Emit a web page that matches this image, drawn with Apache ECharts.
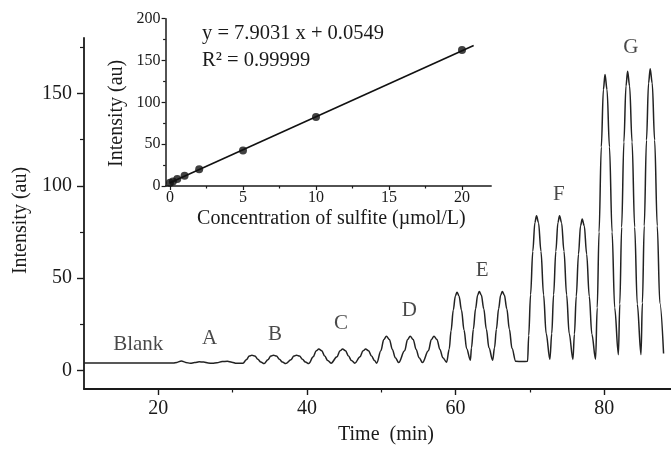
<!DOCTYPE html>
<html><head><meta charset="utf-8">
<script src="https://cdn.jsdelivr.net/npm/echarts@6/dist/echarts.min.js"></script>
<style>html,body{margin:0;padding:0;background:#fff}#c{width:671px;height:450px}</style>
</head><body><div id="c"></div>
<script>
// ---- main signal (Time, min / Intensity, au) ----
const timeMin = [10,16,22.0,22.5,23.1,23.7,24.3,24.9,25.5,26.1,26.7,27.3,27.9,28.6,29.3,29.9,30.5,31.0,
  31.4,31.85,32.25,32.6,33.0,33.4,33.8,34.25,34.75,35.15,35.5,35.9,36.3,36.7,37.15,37.85,38.25,38.6,39.0,39.4,39.8,40.25,
  40.85,41.25,41.6,42.0,42.4,42.8,43.25,44.05,44.45,44.8,45.2,45.6,46.0,46.45,47.15,47.55,47.9,48.3,48.7,49.1,49.4,
  49.95,50.35,50.7,51.1,51.5,51.9,52.35,53.15,53.55,53.9,54.3,54.7,55.1,55.55,56.35,56.75,57.1,57.5,57.9,58.3,58.8,
  59.15,59.4,59.7,59.98,60.2,60.47,60.8,61.15,61.5,62.0,
  62.15,62.4,62.7,62.98,63.2,63.47,63.8,64.15,64.5,65.0,
  65.25,65.5,65.8,66.08,66.3,66.57,66.9,67.25,67.6,68.1,69.0,69.7,
  69.85,70.1,70.4,70.68,70.9,71.17,71.5,71.85,72.2,72.7,
  72.95,73.2,73.5,73.78,74.0,74.27,74.6,74.95,75.3,75.8,
  76.0,76.25,76.55,76.83,77.05,77.32,77.65,78.0,78.35,78.85,
  79.07,79.32,79.62,79.9,80.12,80.39,80.72,81.07,81.42,81.92,
  82.11,82.36,82.66,82.94,83.16,83.43,83.76,84.11,84.46,84.96,
  85.15,85.4,85.7,85.98,86.2,86.47,86.8,87.15,87.5,88.0];
const intensity = [4.1,4.1,4.1,4.4,5.2,4.4,3.9,4.3,4.7,4.6,4.1,3.9,4.2,4.9,5.0,4.5,3.9,3.9,
  4.0,5.8,7.8,8.3,7.8,6.05,4.6,3.8,5.8,7.8,8.3,7.8,6.05,4.6,3.8,5.8,7.8,8.3,7.8,6.05,4.6,3.8,
  7.4,10.7,11.6,10.7,7.8,5.4,4.0,7.4,10.7,11.6,10.7,7.8,5.4,4.0,7.4,10.7,11.6,10.7,7.8,5.4,4.0,
  10.7,16.8,18.5,16.8,11.4,6.9,4.3,10.7,16.8,18.5,16.8,11.4,6.9,4.3,10.7,16.8,18.5,16.8,11.4,6.9,4.5,
  11.5,21.5,32.8,40.4,42.4,40.4,32.8,21.8,11.8,5.6,
  12.3,22.3,33.5,40.9,42.8,40.9,33.5,22.3,12.3,5.6,
  12.3,22.3,33.5,40.9,42.8,40.9,33.5,22.3,12.0,5.0,4.9,5.0,
  19,41,64.5,80,83.8,80,64.5,41,20,6.0,
  20,41,64.5,80,83.8,80,64.5,41,20,6.0,
  19.7,40.2,63,78.5,82,78.5,63,40.2,19.7,6.1,
  34,75,121,152,160.2,152,121,75,34,8.6,
  36,77.6,123.7,154,162,154,123.7,77.6,36,8.6,
  36.5,78.3,124.7,155.6,163.4,155.6,124.7,78.3,36.5,9.2];

// ---- peak group labels ----
const groupNames = ['Blank','A','B','C','D','E','F','G'];
const groupTime  = [17.3, 26.9, 35.7, 44.6, 53.8, 63.6, 73.9, 83.6];
const groupLevel = [14.0, 17.5, 19.7, 25.4, 32.4, 54.2, 95.5, 175];

// ---- inset calibration ----
const concentration  = [0, 0.2, 0.5, 1, 2, 5, 10, 20];
const calibIntensity = [4, 5.5, 8.3, 12.3, 20, 42.5, 82.5, 162.5];
const fitConc = [0, 20.8];
const fitInt  = [4, 168];
const equationText = 'y = 7.9031 x + 0.0549';
const r2Text = 'R\u00b2 = 0.99999';

// ---- ticks ----
const xMajor = [20, 40, 60, 80];
const xMinor = [30, 50, 70];
const yMajor = [0, 50, 100, 150];
const yMinor = [25, 75, 125, 175];
const inXMajor = [0, 5, 10, 15, 20];
const inXMinor = [2.5, 7.5, 12.5, 17.5];
const inYMajor = [0, 50, 100, 150, 200];
const inYMinor = [25, 75, 125, 175];

const FONT = '"Liberation Serif","Times New Roman",serif';
const INK = '#1a1a1a';

function zip(a, b) { return a.map((v, i) => [v, b[i]]); }

function majorAxis(o) {
  return Object.assign({
    type: 'value',
    axisLine: { show: true, onZero: false, lineStyle: { color: INK, width: 1.8 } },
    splitLine: { show: false },
  }, o);
}
function minorAxis(o, vals, len) {
  return Object.assign({
    type: 'value',
    axisLine: { show: false, onZero: false },
    axisLabel: { show: false },
    axisTick: { show: true, customValues: vals, length: len, lineStyle: { color: INK, width: 1.2 } },
    splitLine: { show: false },
  }, o);
}

const chart = echarts.init(document.getElementById('c'), null, { renderer: 'canvas' });
chart.setOption({
  animation: false,
  backgroundColor: '#fff',
  textStyle: { fontFamily: FONT, color: INK },
  grid: [
    { left: 84, right: 0, top: 38, bottom: 59.5 },
    { left: 165.6, width: 325.6, top: 18.7, height: 167.3 }
  ],
  xAxis: [
    majorAxis({ gridIndex: 0, min: 10, max: 89, position: 'bottom',
      axisTick: { show: true, customValues: xMajor, length: 6, lineStyle: { color: INK, width: 1.4 } },
      axisLabel: { customValues: xMajor, margin: 10, fontSize: 20, fontFamily: FONT, color: INK },
      name: 'Time  (min)', nameLocation: 'middle', nameGap: 36,
      nameTextStyle: { fontSize: 20, fontFamily: FONT, color: INK, padding: [0, 0, 0, 17] } }),
    minorAxis({ gridIndex: 0, min: 10, max: 89, position: 'bottom' }, xMinor, 3.5),
    majorAxis({ gridIndex: 1, min: -0.3, max: 22, position: 'bottom',
      axisLine: { show: true, onZero: false, lineStyle: { color: INK, width: 1.5 } },
      axisTick: { show: true, customValues: inXMajor, length: 4, lineStyle: { color: INK, width: 1.2 } },
      axisLabel: { customValues: inXMajor, margin: 4, fontSize: 16, fontFamily: FONT, color: INK },
      name: 'Concentration of sulfite (\u00b5mol/L)', nameLocation: 'middle', nameGap: 23,
      nameTextStyle: { fontSize: 20, fontFamily: FONT, color: INK, padding: [0, 0, 0, 6] } }),
    minorAxis({ gridIndex: 1, min: -0.3, max: 22, position: 'bottom' }, inXMinor, 2.5)
  ],
  yAxis: [
    majorAxis({ gridIndex: 0, min: -10, max: 180, position: 'left',
      axisTick: { show: true, customValues: yMajor, length: 7, lineStyle: { color: INK, width: 1.4 } },
      axisLabel: { customValues: yMajor, margin: 12, fontSize: 20, fontFamily: FONT, color: INK },
      name: 'Intensity (au)', nameLocation: 'middle', nameGap: 52, nameRotate: 90,
      nameTextStyle: { fontSize: 20, fontFamily: FONT, color: INK, padding: [0, 14, 0, 0] } }),
    minorAxis({ gridIndex: 0, min: -10, max: 180, position: 'left' }, yMinor, 4),
    majorAxis({ gridIndex: 1, min: 0, max: 200, position: 'left',
      axisLine: { show: true, onZero: false, lineStyle: { color: INK, width: 1.5 } },
      axisTick: { show: true, customValues: inYMajor, length: 4, lineStyle: { color: INK, width: 1.2 } },
      axisLabel: { customValues: inYMajor, margin: 5, fontSize: 16, fontFamily: FONT, color: INK },
      name: 'Intensity (au)', nameLocation: 'middle', nameGap: 39, nameRotate: 90,
      nameTextStyle: { fontSize: 20, fontFamily: FONT, color: INK, padding: [0, 22, 0, 0] } }),
    minorAxis({ gridIndex: 1, min: 0, max: 200, position: 'left' }, inYMinor, 2.5)
  ],
  series: [
    { name: 'signal', type: 'line', xAxisIndex: 0, yAxisIndex: 0, data: zip(timeMin, intensity),
      showSymbol: false, smooth: 0.35, smoothMonotone: 'x', lineStyle: { color: '#222', width: 1.5 }, silent: true },
    { name: 'groups', type: 'scatter', xAxisIndex: 0, yAxisIndex: 0, symbolSize: 0,
      data: groupTime.map((t, i) => ({ value: [t, groupLevel[i]], name: groupNames[i] })),
      label: { show: true, position: 'inside', formatter: p => p.name, fontSize: 21, fontFamily: FONT, color: INK } },
    { name: 'fit', type: 'line', xAxisIndex: 2, yAxisIndex: 2, data: zip(fitConc, fitInt),
      showSymbol: false, lineStyle: { color: '#111', width: 1.6 } },
    { name: 'calibration', type: 'scatter', xAxisIndex: 2, yAxisIndex: 2, data: zip(concentration, calibIntensity),
      symbol: 'circle', symbolSize: 8, itemStyle: { color: '#111' } }
  ],
  graphic: [
    { type: 'text', left: 202, top: 23, style: { text: equationText, font: '20.5px "Liberation Serif", serif', fill: INK } },
    { type: 'text', left: 202, top: 50, style: { text: r2Text, font: '20.5px "Liberation Serif", serif', fill: INK } }
  ]
});
</script></body></html>
